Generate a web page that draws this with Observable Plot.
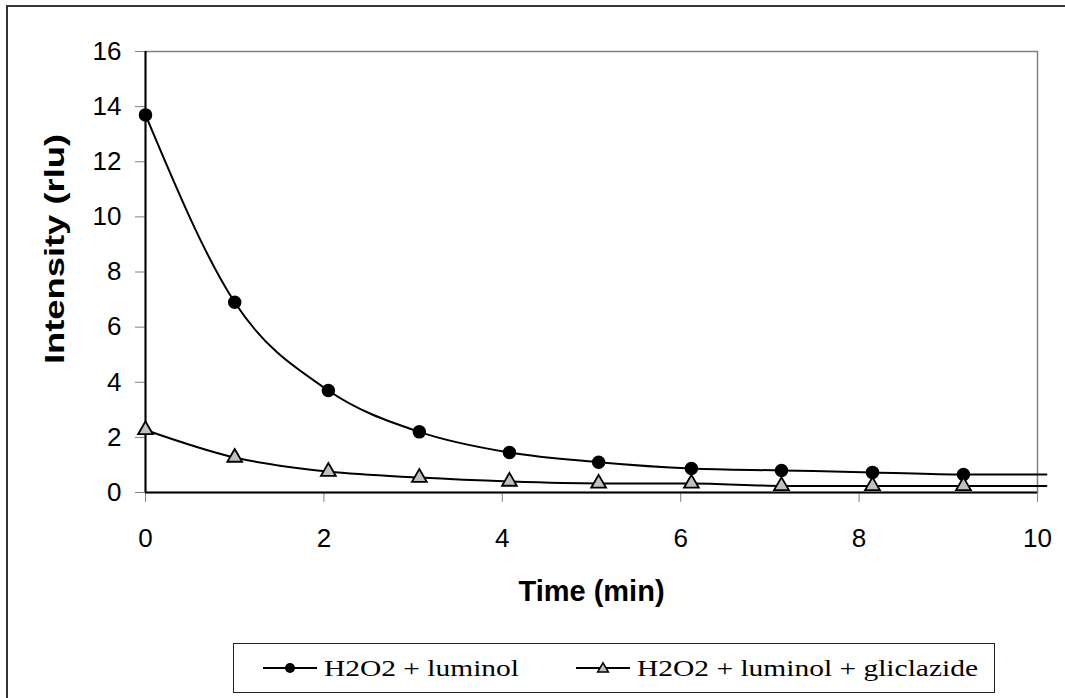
<!DOCTYPE html>
<html>
<head>
<meta charset="utf-8">
<script src="https://cdn.jsdelivr.net/npm/d3@7"></script>
<script src="https://cdn.jsdelivr.net/npm/@observablehq/plot@0.6"></script>
<style>
  html, body { margin: 0; padding: 0; background: #fff; }
  #wrap { position: relative; width: 1065px; height: 698px; overflow: hidden; background: #fff; }
  #outer { position: absolute; left: 6px; top: 5px; width: 1200px; height: 900px; border: 2px solid #333; box-sizing: border-box; }
  #chart { position: absolute; left: 0; top: 0; }
  #legend { position: absolute; left: 233px; top: 643px; width: 762px; height: 50px; border: 1px solid #222; box-sizing: border-box; background: #fff; }
  #chart g[aria-label="y-axis tick label"], #chart g[aria-label="x-axis tick label"] { font-size: 26px; }
</style>
</head>
<body>
<div id="wrap">
  <div id="outer"></div>
  <div id="chart"></div>
  <div id="legend"></div>
</div>
<script>
// Data
const times = [0, 1, 2.05, 3.07, 4.08, 5.08, 6.12, 7.13, 8.15, 9.17];
const luminol = [13.7, 6.9, 3.7, 2.2, 1.45, 1.1, 0.87, 0.8, 0.73, 0.65];
const gliclazide = [2.27, 1.27, 0.76, 0.54, 0.4, 0.33, 0.33, 0.24, 0.24, 0.24];
const lineEndTime = 10.1;
const seriesNames = ["H2O2 + luminol", "H2O2 + luminol + gliclazide"];
const xTicks = [0, 2, 4, 6, 8, 10];
const yTicks = [0, 2, 4, 6, 8, 10, 12, 14, 16];
const xLabel = "Time (min)";
const yLabel = "Intensity (rlu)";

const ptsA = times.map((t, i) => ({t, v: luminol[i]}));
const ptsB = times.map((t, i) => ({t, v: gliclazide[i]}));
const lineA = [...ptsA, {t: lineEndTime, v: luminol[luminol.length - 1]}];
const lineB = [...ptsB, {t: lineEndTime, v: gliclazide[gliclazide.length - 1]}];

const chart = Plot.plot({
  width: 1065,
  height: 640,
  marginLeft: 145,
  marginRight: 28,
  marginTop: 51,
  marginBottom: 148,
  style: {fontFamily: "'Liberation Sans', Arial, sans-serif", fontSize: "26px", background: "transparent", overflow: "visible"},
  x: {domain: [0, 10]},
  y: {domain: [0, 16]},
  marks: [
    Plot.frame({stroke: "#808080", strokeWidth: 1.5}),
    Plot.axisY({ticks: yTicks, tickSize: 10, tickPadding: 14, stroke: "#808080", fill: "black", label: null, fontSize: 26, tickFormat: d => String(d)}),
    Plot.axisX({ticks: xTicks, tickSize: 10, tickPadding: 26, stroke: "#808080", fill: "black", label: null, fontSize: 26, tickFormat: d => String(d)}),
    Plot.ruleX([0], {stroke: "black", strokeWidth: 2}),
    Plot.ruleY([0], {stroke: "black", strokeWidth: 2}),
    Plot.line(lineA, {x: "t", y: "v", curve: "monotone-x", stroke: "black", strokeWidth: 2}),
    Plot.line(lineB, {x: "t", y: "v", curve: "monotone-x", stroke: "black", strokeWidth: 2}),
    Plot.dot(ptsA, {x: "t", y: "v", r: 6, fill: "black", stroke: "black", symbol: "circle"}),
    Plot.dot(ptsB, {x: "t", y: "v", r: 5.5, fill: "#c0c0c0", stroke: "black", strokeWidth: 1.8, symbol: "triangle"}),
    Plot.text([xLabel], {frameAnchor: "bottom", dy: 99, fontWeight: "bold", fontSize: 29, lineAnchor: "middle"}),
    Plot.text([yLabel], {frameAnchor: "left", dx: -90, dy: 92, rotate: -90, textAnchor: "start", fontWeight: "bold", fontSize: 28, lineAnchor: "middle"})
  ]
});
document.getElementById("chart").appendChild(chart);

// tick label size
chart.querySelectorAll('g[aria-label$="tick label"]').forEach(g => {
  g.setAttribute("font-size", 26);
  g.style.fontSize = "26px";
  g.querySelectorAll("text").forEach(t => t.style.fontSize = "26px");
});

// stretch the vertical label to its reference length
const ylab = Array.from(chart.querySelectorAll("text")).find(t => t.textContent === yLabel);
if (ylab) { ylab.setAttribute("textLength", 230); ylab.setAttribute("lengthAdjust", "spacingAndGlyphs"); }

// Legend (outside the plot)
const ns = "http://www.w3.org/2000/svg";
const lg = document.createElementNS(ns, "svg");
lg.setAttribute("width", 760); lg.setAttribute("height", 48);
const items = [
  {x0: 29, text: seriesNames[0], len: 195, sym: "circle"},
  {x0: 342, text: seriesNames[1], len: 341, sym: "triangle"}
];
const cy = 24;
for (const it of items) {
  const ln = document.createElementNS(ns, "line");
  ln.setAttribute("x1", it.x0); ln.setAttribute("x2", it.x0 + 54);
  ln.setAttribute("y1", cy); ln.setAttribute("y2", cy);
  ln.setAttribute("stroke", "black"); ln.setAttribute("stroke-width", 2);
  lg.appendChild(ln);
  const mx = it.x0 + 27;
  if (it.sym === "circle") {
    const c = document.createElementNS(ns, "circle");
    c.setAttribute("cx", mx); c.setAttribute("cy", cy); c.setAttribute("r", 5);
    c.setAttribute("fill", "black");
    lg.appendChild(c);
  } else {
    const p = document.createElementNS(ns, "path");
    p.setAttribute("d", d3.symbol(d3.symbolTriangle, Math.PI * 16)());
    p.setAttribute("transform", `translate(${mx},${cy + 1})`);
    p.setAttribute("fill", "#c0c0c0"); p.setAttribute("stroke", "black"); p.setAttribute("stroke-width", 1.5);
    lg.appendChild(p);
  }
  const tx = document.createElementNS(ns, "text");
  tx.setAttribute("x", it.x0 + 61); tx.setAttribute("y", cy + 8);
  tx.setAttribute("font-family", "'Liberation Serif', 'Times New Roman', serif");
  tx.setAttribute("font-size", 23);
  tx.setAttribute("textLength", it.len); tx.setAttribute("lengthAdjust", "spacingAndGlyphs");
  tx.textContent = it.text;
  lg.appendChild(tx);
}
document.getElementById("legend").appendChild(lg);
</script>
</body>
</html>
